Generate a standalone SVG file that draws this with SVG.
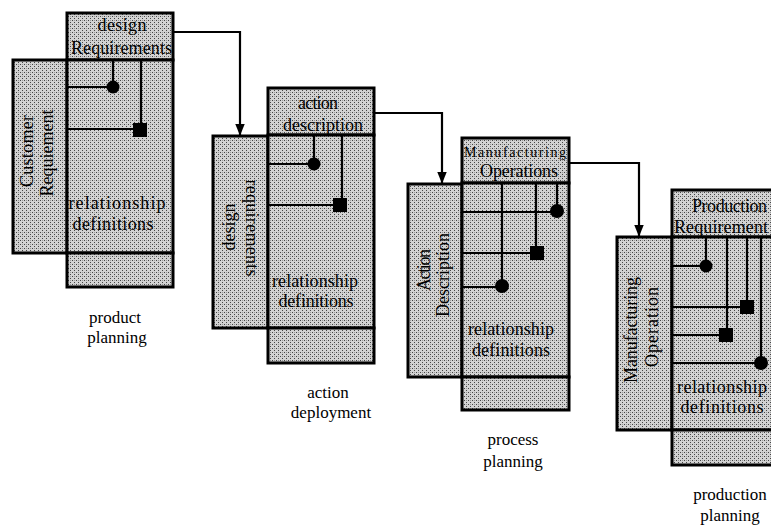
<svg xmlns="http://www.w3.org/2000/svg" width="771" height="526" viewBox="0 0 771 526">
<defs>
<pattern id="ht" width="4" height="4" patternUnits="userSpaceOnUse">
<rect width="4" height="4" fill="#d2d2d2"/>
<rect x="0" y="0" width="1" height="1" fill="#444"/>
<rect x="2" y="2" width="1" height="1" fill="#444"/>
<rect x="2" y="0" width="1" height="1" fill="#999"/>
</pattern>
<marker id="ah" markerUnits="userSpaceOnUse" markerWidth="12" markerHeight="16" refX="14" refY="6" viewBox="0 0 15 12" orient="auto">
<path d="M0,0 L15,6 L0,12 Z" fill="#000"/>
</marker>
</defs>
<style>
.box{fill:url(#ht);stroke:#000;stroke-width:3}
.ln{stroke:#000;stroke-width:2.2;fill:none}
.dot{fill:#000}
.t{font-family:"Liberation Serif","Times New Roman",serif;font-size:18px;fill:#000}
.lb{font-size:17px}
.s{font-size:14px}
.m{text-anchor:middle}
.conn{stroke:#000;stroke-width:2.2;fill:none}
</style>

<g id="connectors">
<path class="conn" d="M173,32 H240 V135" marker-end="url(#ah)"/>
<path class="conn" d="M374,113 H442 V183" marker-end="url(#ah)"/>
<path class="conn" d="M569,163 H639 V236" marker-end="url(#ah)"/>
</g>

<g id="m1">
<rect class="box" x="67" y="13" width="106" height="47"/>
<rect class="box" x="13" y="60" width="54" height="193"/>
<rect class="box" x="67" y="60" width="106" height="193"/>
<rect class="box" x="67" y="253" width="106" height="34"/>
<path class="ln" d="M113,60 V87 M67,87 H113 M141,60 V129 M67,129 H140"/>
<circle class="dot" cx="113" cy="87" r="6.5"/>
<rect class="dot" x="133" y="123" width="14" height="14"/>
<text class="t m" x="122" y="31" textLength="49">design</text>
<text class="t m" x="121.5" y="54" textLength="101">Requirements</text>
<text class="t m" transform="translate(33,151) rotate(-90)" textLength="72">Customer</text>
<text class="t m" transform="translate(53,153) rotate(-90)" textLength="87">Requiement</text>
<text class="t m" x="117" y="209" textLength="97">relationship</text>
<text class="t m" x="113" y="230" textLength="81">definitions</text>
</g>
<g id="l1">
<text class="t lb m" x="115" y="323">product</text>
<text class="t lb m" x="117" y="343">planning</text>
</g>

<g id="m2">
<rect class="box" x="268" y="88" width="106" height="47"/>
<rect class="box" x="213" y="136" width="55" height="192"/>
<rect class="box" x="268" y="135" width="106" height="193"/>
<rect class="box" x="268" y="328" width="106" height="35"/>
<path class="ln" d="M314,135 V164 M268,164 H314 M342,135 V205 M268,205 H340"/>
<circle class="dot" cx="314" cy="164" r="6.5"/>
<rect class="dot" x="333" y="198" width="14" height="14"/>
<text class="t m" x="318" y="109" textLength="40">action</text>
<text class="t m" x="323" y="131" textLength="80">description</text>
<text class="t m" transform="translate(235,227) rotate(-90)" textLength="47">design</text>
<text class="t m" transform="translate(246,228) rotate(90)" textLength="97">requirements</text>
<text class="t m" x="315" y="287" textLength="86">relationship</text>
<text class="t m" x="316" y="307" textLength="75">definitions</text>
</g>
<g id="l2">
<text class="t lb m" x="328" y="398">action</text>
<text class="t lb m" x="331" y="418">deployment</text>
</g>

<g id="m3">
<rect class="box" x="462" y="138" width="107" height="45"/>
<rect class="box" x="408" y="184" width="54" height="193"/>
<rect class="box" x="462" y="183" width="107" height="194"/>
<rect class="box" x="462" y="377" width="107" height="33"/>
<path class="ln" d="M502,183 V287 M536,183 V253 M557,183 V212 M462,212 H557 M462,253 H537 M462,287 H502"/>
<circle class="dot" cx="557" cy="211" r="7"/>
<rect class="dot" x="530" y="246" width="14" height="14"/>
<circle class="dot" cx="502" cy="286" r="7"/>
<text class="t s m" x="515" y="157" textLength="102">Manufacturing</text>
<text class="t m" x="519" y="177" textLength="78">Operations</text>
<text class="t m" transform="translate(430,270) rotate(-90)" textLength="42">Action</text>
<text class="t m" transform="translate(449,275) rotate(-90)" textLength="84">Description</text>
<text class="t m" x="511" y="335" textLength="86">relationship</text>
<text class="t m" x="511" y="356" textLength="78">definitions</text>
</g>
<g id="l3">
<text class="t lb m" x="513" y="445">process</text>
<text class="t lb m" x="513" y="467">planning</text>
</g>

<g id="m4">
<rect class="box" x="672" y="190" width="106" height="47"/>
<rect class="box" x="617" y="237" width="55" height="193"/>
<rect class="box" x="672" y="237" width="106" height="193"/>
<rect class="box" x="672" y="430" width="106" height="35"/>
<path class="ln" d="M706,237 V266 M727,237 V335 M747,237 V307 M761,237 V363 M672,266 H706 M672,307 H747 M672,335 H726 M672,363 H761"/>
<circle class="dot" cx="706" cy="266" r="6.5"/>
<rect class="dot" x="740" y="300" width="14" height="14"/>
<rect class="dot" x="719" y="328" width="14" height="14"/>
<circle class="dot" cx="761" cy="363" r="7"/>
<text class="t" x="692" y="212" textLength="75">Production</text>
<text class="t" x="674" y="233" textLength="94">Requirement</text>
<text class="t m" transform="translate(637,330) rotate(-90)" textLength="106">Manufacturing</text>
<text class="t m" transform="translate(658,327) rotate(-90)" textLength="80">Operation</text>
<text class="t m" x="722" y="393" textLength="90">relationship</text>
<text class="t m" x="722" y="413" textLength="83">definitions</text>
</g>
<g id="l4">
<text class="t lb m" x="730" y="500">production</text>
<text class="t lb m" x="730" y="521">planning</text>
</g>
</svg>
